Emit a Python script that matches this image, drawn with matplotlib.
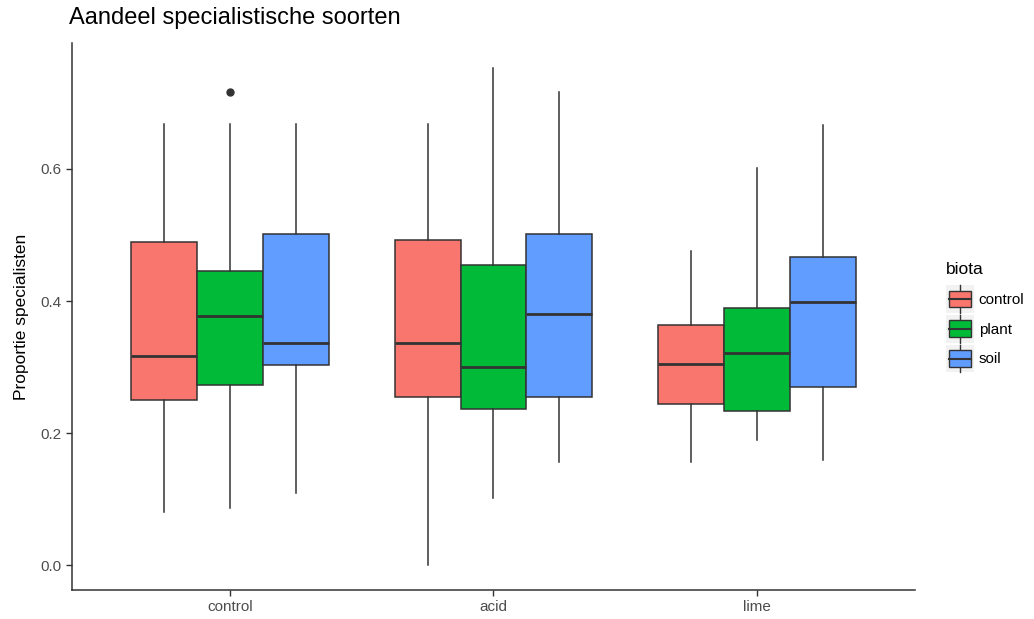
import matplotlib.pyplot as plt
from matplotlib.patches import Rectangle
from matplotlib.lines import Line2D
from matplotlib.legend_handler import HandlerBase

plt.rcParams['font.family'] = ['Liberation Sans', 'DejaVu Sans']

treatments = ["control", "acid", "lime"]
biota = ["control", "plant", "soil"]
colors = ["#F8766D", "#00BA38", "#619CFF"]

# per treatment, per biota: [whisker low, q1, median, q3, whisker high]
control_stats = [
    [0.080, 0.250, 0.316, 0.490, 0.668],
    [0.086, 0.273, 0.378, 0.445, 0.668],
    [0.109, 0.303, 0.336, 0.502, 0.668],
]
acid_stats = [
    [0.000, 0.254, 0.336, 0.492, 0.668],
    [0.102, 0.236, 0.300, 0.454, 0.753],
    [0.156, 0.254, 0.380, 0.502, 0.717],
]
lime_stats = [
    [0.157, 0.244, 0.305, 0.363, 0.476],
    [0.189, 0.234, 0.322, 0.389, 0.601],
    [0.160, 0.270, 0.398, 0.466, 0.667],
]
# outliers (treatment index, biota index, value)
outliers = [(0, 1, 0.716)]

all_stats = [control_stats, acid_stats, lime_stats]

fig = plt.figure(figsize=(10.34, 6.19), dpi=100)
ax = fig.add_axes([0.0696, 0.0468, 0.8153, 0.8837])

edge = "#333333"
box_w = 0.25
for ti, group in enumerate(all_stats):
    for bi, s in enumerate(group):
        pos = ti + 1 + (bi - 1) * box_w
        fl = [v for (t, b, v) in outliers if t == ti and b == bi]
        st = dict(whislo=s[0], q1=s[1], med=s[2], q3=s[3], whishi=s[4], fliers=fl)
        ax.bxp([st], positions=[pos], widths=box_w, patch_artist=True,
               showcaps=False, manage_ticks=False,
               boxprops=dict(facecolor=colors[bi], edgecolor=edge, linewidth=1.1),
               medianprops=dict(color=edge, linewidth=2.0),
               whiskerprops=dict(color=edge, linewidth=1.1),
               flierprops=dict(marker='o', markersize=5, markerfacecolor=edge,
                               markeredgecolor=edge))

ax.set_xlim(0.4, 3.6)
ax.set_ylim(-0.0376, 0.7906)
ax.set_xticks([1, 2, 3])
ax.set_xticklabels(treatments)
ax.set_yticks([0.0, 0.2, 0.4, 0.6])
ax.set_yticklabels(["0.0", "0.2", "0.4", "0.6"])
ax.tick_params(colors="#333333", labelcolor="#4D4D4D", labelsize=11, length=4, width=1)
for side in ["top", "right"]:
    ax.spines[side].set_visible(False)
for side in ["left", "bottom"]:
    ax.spines[side].set_color("#333333")
    ax.spines[side].set_linewidth(1.1)

ax.set_ylabel("Proportie specialisten", fontsize=12.5, labelpad=8)
fig.text(0.067, 0.953, "Aandeel specialistische soorten", fontsize=17, va="bottom", ha="left")


class BoxKey(HandlerBase):
    def create_artists(self, legend, orig, xd, yd, w, h, fontsize, trans):
        x0, y0 = -xd, -yd
        bg = Rectangle((x0, y0), w, h, facecolor="#F2F2F2", edgecolor="none", transform=trans)
        cx = x0 + w / 2
        wl = Line2D([cx, cx], [y0, y0 + h], color=edge, linewidth=1.0, transform=trans)
        box = Rectangle((x0 + w * 0.1, y0 + h * 0.2), w * 0.8, h * 0.6,
                        facecolor=orig.get_facecolor(), edgecolor=edge, linewidth=1.0, transform=trans)
        med = Line2D([x0 + w * 0.1, x0 + w * 0.9], [y0 + h / 2, y0 + h / 2], color=edge,
                     linewidth=1.5, transform=trans)
        return [bg, wl, box, med]


handles = [Rectangle((0, 0), 1, 1, facecolor=c) for c in colors]
leg = fig.legend(handles, biota, title="biota", loc="upper left",
                 bbox_to_anchor=(0.915, 0.577), frameon=False, fontsize=11,
                 title_fontsize=12.5, handler_map={Rectangle: BoxKey()},
                 handlelength=1.83, handleheight=2.43, labelspacing=0.12,
                 handletextpad=0.3, borderaxespad=0, borderpad=0)
leg._legend_box.align = "left"
leg._legend_box.sep = 6

fig.savefig("out.png", dpi=100)
